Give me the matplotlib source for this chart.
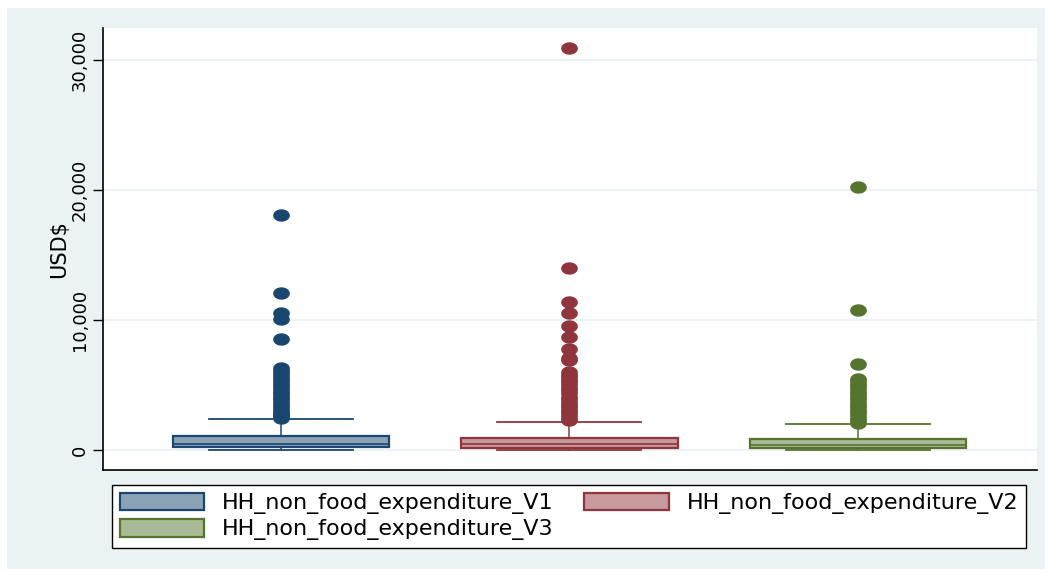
import numpy as np
import matplotlib.pyplot as plt
from matplotlib.patches import Patch, Rectangle
from matplotlib.path import Path
from matplotlib.ticker import FuncFormatter

# Household non-food expenditure (USD$), three survey rounds
series = ["HH_non_food_expenditure_V1",
          "HH_non_food_expenditure_V2",
          "HH_non_food_expenditure_V3"]
whislo = [0, 0, 0]
q1 = [250, 150, 150]
med = [480, 500, 420]
q3 = [1080, 900, 870]
whishi = [2400, 2150, 2000]

fliers_v1 = [18100, 12050, 10500, 10100, 8500, 6300, 6100, 5900, 5700, 5500,
             5300, 5100, 4900, 4700, 4500, 4300, 4100, 3900, 3700, 3500, 3300,
             3100, 2900, 2800, 2700, 2600, 2500]
fliers_v2 = [30950, 13970, 11350, 10500, 9550, 8700, 7800, 7100, 6900, 6000,
             5800, 5600, 5400, 5200, 5000, 4800, 4600, 4400, 4100, 3900, 3700,
             3500, 3300, 3100, 2900, 2700, 2500, 2300]
fliers_v3 = [20200, 10750, 6650, 5500, 5300, 5100, 4900, 4700, 4500, 4300,
             4100, 3900, 3700, 3500, 3300, 3100, 2900, 2700, 2500, 2300, 2100]
fliers = [fliers_v1, fliers_v2, fliers_v3]

yticks = [0, 10000, 20000, 30000]

# Stata s2color palette
edge_cols = ["#1a476f", "#90353b", "#55752f"]
fill_cols = ["#8ca3b7", "#c79a9d", "#aaba97"]
bg = "#eaf2f3"

plt.rcParams["font.family"] = ["DejaVu Sans"]

fig = plt.figure(figsize=(10.48, 5.69), dpi=100)
fig.patch.set_facecolor("white")
W, H = 1048, 569

# light graph region behind everything
fig.patches.append(Rectangle((7 / W, 0), (1045 - 7) / W, 1 - 8 / H,
                             transform=fig.transFigure, facecolor=bg,
                             edgecolor="none", zorder=-5))

ax = fig.add_axes([103 / W, 1 - 470 / H, 934 / W, 442 / H])
ax.set_facecolor("white")

# elliptical marker for outliers
t = np.linspace(0, 2 * np.pi, 40)
ellipse = Path(np.column_stack([np.cos(t), 0.72 * np.sin(t)]), closed=True)

for i in range(3):
    stats = [dict(whislo=whislo[i], q1=q1[i], med=med[i], q3=q3[i],
                  whishi=whishi[i], fliers=fliers[i], label=series[i])]
    ax.bxp(stats, positions=[i + 1], widths=0.75, capwidths=0.5,
           patch_artist=True, manage_ticks=False,
           boxprops=dict(facecolor=fill_cols[i], edgecolor=edge_cols[i],
                         linewidth=1.6),
           medianprops=dict(color=edge_cols[i], linewidth=1.2),
           whiskerprops=dict(color=edge_cols[i], linewidth=1.1),
           capprops=dict(color=edge_cols[i], linewidth=1.3),
           flierprops=dict(marker=ellipse, markersize=11,
                           markerfacecolor=edge_cols[i],
                           markeredgecolor=edge_cols[i], linestyle="none"),
           zorder=3)

ax.set_xlim(0.382, 3.622)
ax.set_ylim(-1538, 32460)
ax.set_xticks([])
ax.set_yticks(yticks)
ax.yaxis.set_major_formatter(FuncFormatter(lambda v, p: f"{int(v):,}"))
ax.tick_params(axis="y", direction="out", length=7.2, width=1, pad=3,
               labelsize=13, labelrotation=90)
for lab in ax.get_yticklabels():
    lab.set_va("center")
ax.grid(axis="y", color=bg, linewidth=1.3, zorder=0)
ax.set_axisbelow(True)

for s in ["top", "right"]:
    ax.spines[s].set_visible(False)
for s in ["left", "bottom"]:
    ax.spines[s].set_linewidth(1.2)
    ax.spines[s].set_color("black")

ax.set_ylabel("USD$", fontsize=15, labelpad=1)

# legend fills column by column, so V3 goes second to sit on row two
handles = [Patch(facecolor=fill_cols[i], edgecolor=edge_cols[i], linewidth=1.6,
                 label=series[i]) for i in (0, 2, 1)]
leg = fig.legend(handles=handles, ncol=2, loc="upper left", mode="expand",
                 bbox_to_anchor=(112 / W, 1 - 546 / H, (1026 - 112) / W, 61 / H),
                 fontsize=16, frameon=True, fancybox=False, edgecolor="black",
                 facecolor="white", framealpha=1,
                 handlelength=3.8, handleheight=0.85, handletextpad=0.8,
                 borderpad=0.35, labelspacing=0.2, columnspacing=0.0,
                 borderaxespad=0)
leg.get_frame().set_linewidth(1.0)

fig.savefig("out.png", dpi=100, facecolor=fig.get_facecolor())
